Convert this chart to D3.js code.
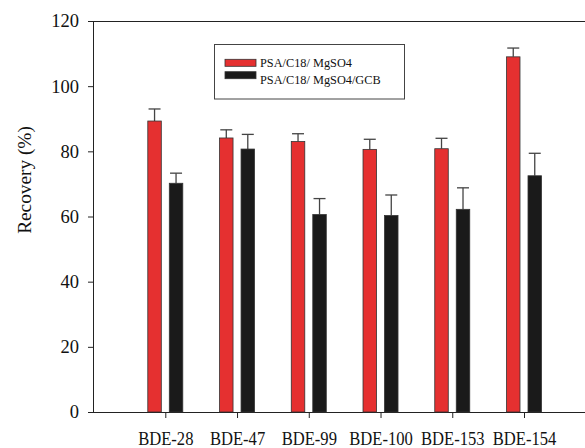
<!DOCTYPE html>
<html>
<head>
<meta charset="utf-8">
<script src="https://cdn.jsdelivr.net/npm/d3@7"></script>
<style>
  body { margin: 0; background: #fff; }
  svg { display: block; font-family: "Liberation Serif", "Times New Roman", serif; }
</style>
</head>
<body>
<div id="chart"></div>
<script>
// Recovery data
const congeners = ['BDE-28', 'BDE-47', 'BDE-99', 'BDE-100', 'BDE-153', 'BDE-154'];
const methods = ['PSA/C18/ MgSO4', 'PSA/C18/ MgSO4/GCB'];
const recoveryPSA = [89.3, 84.1, 83.0, 80.6, 80.8, 109.0];
const errorPSA = [3.7, 2.5, 2.4, 3.1, 3.2, 2.7];
const recoveryGCB = [70.2, 80.7, 60.6, 60.3, 62.2, 72.5];
const errorGCB = [3.1, 4.5, 4.9, 6.3, 6.6, 6.9];
const yTicks = [0, 20, 40, 60, 80, 100, 120];
const colors = ['#e53030', '#1a1a1a'];

const width = 585, height = 448;
const plotLeft = 93, plotRight = 585, plotTop = 21, plotBottom = 412;

const svg = d3.select('#chart').append('svg')
  .attr('width', width)
  .attr('height', height);

const x = d3.scalePoint().domain(congeners).range([165.3, 524]);
const xSub = d3.scaleBand().domain([0, 1]).range([-17.5, 17.5]).paddingInner(0.372);
const y = d3.scaleLinear().domain([0, 120]).range([plotBottom, plotTop]);

// frame
svg.append('line').attr('x1', plotLeft).attr('x2', plotRight).attr('y1', plotTop + 0.5).attr('y2', plotTop + 0.5)
  .attr('stroke', '#222').attr('stroke-width', 1);

const yAxis = svg.append('g')
  .attr('transform', `translate(${plotLeft},0)`)
  .call(d3.axisLeft(y).tickValues(yTicks).tickSize(5).tickPadding(9));
yAxis.select('.domain').attr('stroke', '#222');
yAxis.selectAll('line').attr('stroke', '#222');
yAxis.selectAll('text').attr('font-size', 18.5).attr('fill', '#111')
  .attr('font-family', '"Liberation Serif", serif');

const xAxis = svg.append('g')
  .attr('transform', `translate(0,${plotBottom})`)
  .call(d3.axisBottom(x).tickSize(6));
xAxis.select('.domain').attr('d', `M${plotLeft},0.5H${plotRight}`).attr('stroke', '#222');
xAxis.selectAll('line').attr('stroke', '#222');
// tick labels sit low and are drawn slightly tall, as in the original figure
xAxis.selectAll('text')
  .attr('y', 0).attr('dy', 0)
  .attr('transform', 'translate(0,32.5) scale(1,1.18)')
  .attr('font-size', 16.6).attr('fill', '#111')
  .attr('font-family', '"Liberation Serif", serif');

svg.append('text')
  .attr('transform', 'translate(30.5,180) rotate(-90)')
  .attr('text-anchor', 'middle')
  .attr('font-size', 19.3)
  .attr('fill', '#111')
  .text('Recovery (%)');

const series = [
  { values: recoveryPSA, errors: errorPSA },
  { values: recoveryGCB, errors: errorGCB }
];

series.forEach((s, si) => {
  const g = svg.append('g');
  congeners.forEach((c, i) => {
    const bx = x(c) + xSub(si);
    const bw = xSub.bandwidth();
    const cx = bx + bw / 2;
    const eTop = y(s.values[i] + s.errors[i]);
    // error bar (upper only)
    g.append('line').attr('x1', cx).attr('x2', cx)
      .attr('y1', y(s.values[i])).attr('y2', eTop)
      .attr('stroke', '#444').attr('stroke-width', 1.3);
    g.append('line').attr('x1', cx - 6).attr('x2', cx + 6)
      .attr('y1', eTop).attr('y2', eTop)
      .attr('stroke', '#444').attr('stroke-width', 1.3);
    g.append('rect')
      .attr('x', bx).attr('y', y(s.values[i]))
      .attr('width', bw).attr('height', plotBottom - y(s.values[i]))
      .attr('fill', colors[si])
      .attr('stroke', '#333').attr('stroke-width', 0.8);
  });
});

// legend
const legend = svg.append('g');
legend.append('rect')
  .attr('x', 214.5).attr('y', 44.5).attr('width', 190).attr('height', 54.5)
  .attr('fill', '#fff').attr('stroke', '#444').attr('stroke-width', 1);
methods.forEach((m, i) => {
  legend.append('rect')
    .attr('x', 225).attr('y', 59.3 + i * 12.4).attr('width', 31).attr('height', 7)
    .attr('fill', colors[i]).attr('stroke', '#333').attr('stroke-width', 0.8);
  legend.append('text')
    .attr('x', 260).attr('y', 67.3 + i * 16.5)
    .attr('font-size', 12.3).attr('fill', '#111')
    .text(m);
});
</script>
</body>
</html>
